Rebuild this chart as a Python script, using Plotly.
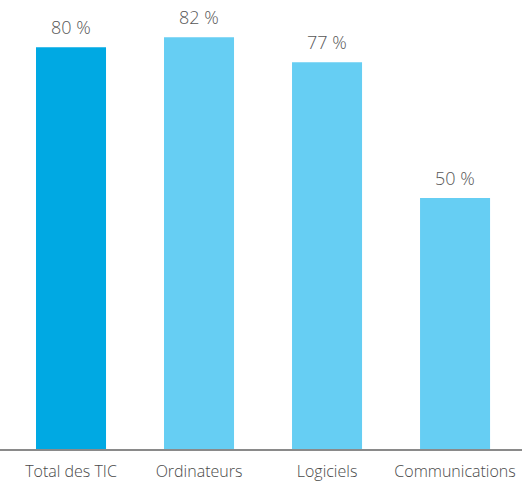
import plotly.graph_objects as go

categories = ["Total des TIC", "Ordinateurs", "Logiciels", "Communications"]
values = [80, 82, 77, 50]
labels = ["80 %", "82 %", "77 %", "50 %"]
bar_colors = ["#00A9E3", "#66CEF3", "#66CEF3", "#66CEF3"]

fig = go.Figure(
    go.Bar(
        x=categories,
        y=values,
        marker=dict(color=bar_colors, line=dict(width=0)),
        hoverinfo="skip",
    )
)

for cat, val, lab in zip(categories, values, labels):
    fig.add_annotation(
        x=cat, y=val, text=lab, showarrow=False,
        yanchor="bottom", yshift=6,
        font=dict(family="Open Sans", size=18, color="#575757", weight=300),
    )

fig.update_layout(
    width=522, height=483,
    margin=dict(l=0, r=0, t=0, b=34),
    paper_bgcolor="white", plot_bgcolor="white",
    bargap=0.453,
    showlegend=False,
    xaxis=dict(
        type="category",
        range=[-0.5547, 3.523],
        showline=True, linecolor="#8a8a8a", linewidth=1.5,
        showgrid=False, zeroline=False,
        ticks="outside", ticklen=7, tickcolor="rgba(0,0,0,0)",
        tickfont=dict(family="Open Sans", size=16, color="#4a4a4a", weight=300),
    ),
    yaxis=dict(
        range=[0, 89.4], visible=False, showgrid=False, zeroline=False,
    ),
)

fig.write_html("out.html")
